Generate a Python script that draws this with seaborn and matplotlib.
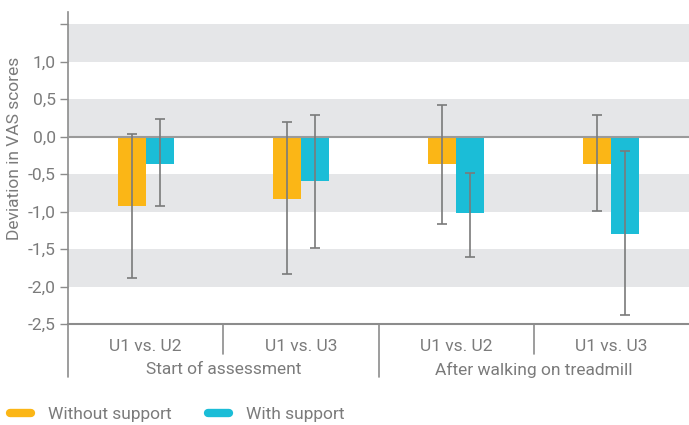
import numpy as np
import pandas as pd
import matplotlib
matplotlib.use("Agg")
import matplotlib.pyplot as plt
from matplotlib.lines import Line2D
import seaborn as sns

comparisons = ["U1 vs. U2", "U1 vs. U3", "U1 vs. U2", "U1 vs. U3"]
phases = ["Start of assessment", "After walking on treadmill"]
series = ["Without support", "With support"]
without_mean = [-0.93, -0.83, -0.36, -0.36]
without_low = [-1.88, -1.83, -1.16, -0.99]
without_high = [0.03, 0.19, 0.42, 0.29]
with_mean = [-0.36, -0.59, -1.02, -1.30]
with_low = [-0.93, -1.49, -1.60, -2.38]
with_high = [0.23, 0.29, -0.48, -0.19]
yticks = [-2.5, -2.0, -1.5, -1.0, -0.5, 0.0, 0.5, 1.0, 1.5]
ytick_labels = ["-2,5", "-2,0", "-1,5", "-1,0", "-0,5", "0,0", "0,5", "1,0", ""]

colors = {"Without support": "#FBB616", "With support": "#1BBDD7"}
text_color = "#7b7b7b"
line_color = "#8c8c8c"
fs = 12.5

sns.set_style("white")
plt.rcParams["font.family"] = ["Roboto", "DejaVu Sans"]

cat_ids = [f"c{i}" for i in range(len(comparisons))]
df = pd.DataFrame({
    "cat": cat_ids * 2,
    "series": [series[0]] * 4 + [series[1]] * 4,
    "value": without_mean + with_mean,
    "low": without_low + with_low,
    "high": without_high + with_high,
})

fig = plt.figure(figsize=(6.89, 4.25), dpi=100)
ax = fig.add_axes([68 / 689, 101 / 425, 621 / 689, 312 / 425])

for lo, hi in [(1.0, 1.5), (0.0, 0.5), (-1.0, -0.5), (-2.0, -1.5)]:
    ax.axhspan(lo, hi, color="#E5E6E8", zorder=0, lw=0)

sns.barplot(data=df, x="cat", y="value", hue="series", order=cat_ids,
            hue_order=series, palette=colors, width=0.36, dodge=True,
            saturation=1, errorbar=None, ax=ax, legend=False, zorder=2, linewidth=0)

for container, s in zip(ax.containers, series):
    sub = df[df["series"] == s].reset_index(drop=True)
    for patch, (_, row) in zip(container.patches, sub.iterrows()):
        xc = patch.get_x() + patch.get_width() / 2
        ax.errorbar([xc], [row["value"]],
                    yerr=[[row["value"] - row["low"]], [row["high"] - row["value"]]],
                    fmt="none", ecolor="#7a7a7a", elinewidth=1.2, capsize=3.5,
                    capthick=1.2, zorder=4)

ax.axhline(0, color="#9a9a9a", lw=1.5, zorder=3)

ax.set_xlim(-0.5, 3.5)
ax.set_ylim(-2.5, 1.66)
ax.set_yticks(yticks)
ax.set_yticklabels(ytick_labels)
ax.tick_params(axis="y", direction="out", length=6, width=1, color=line_color,
               labelsize=fs, labelcolor=text_color, pad=3, left=True)
ax.set_xticks(range(len(comparisons)))
ax.set_xticklabels(comparisons)
ax.tick_params(axis="x", length=0, labelsize=fs, labelcolor=text_color, pad=11)
ax.set_xlabel("")
ax.set_ylabel("Deviation in VAS scores", color=text_color, fontsize=fs)
ax.yaxis.set_label_coords(-46 / 621, (324 - 148) / 312)

for sp in ["top", "right"]:
    ax.spines[sp].set_visible(False)
ax.spines["left"].set_color(line_color)
ax.spines["bottom"].set_color(line_color)
ax.spines["left"].set_linewidth(1.2)
ax.spines["bottom"].set_linewidth(1.5)

trans = ax.get_xaxis_transform()
ax.plot([-0.5, -0.5], [0, -53 / 312], transform=trans, color=line_color, lw=1.2, clip_on=False)
for xs, depth in [(0.5, 30), (1.5, 53), (2.5, 30)]:
    ax.plot([xs, xs], [0, -depth / 312], transform=trans, color=line_color, lw=1.2, clip_on=False)

for i, ph in enumerate(phases):
    ax.text(0.5 + 2 * i, -46 / 312, ph, transform=trans, ha="center", va="center",
            fontsize=fs, color=text_color)

handles = [Line2D([0], [0], color=colors[s], lw=6, solid_capstyle="round") for s in series]
fig.legend(handles, series, loc="center left", bbox_to_anchor=(10 / 689, 11 / 425),
           ncol=2, frameon=False, fontsize=fs, labelcolor=text_color,
           handlelength=1.2, handletextpad=1.0, columnspacing=2.1,
           borderpad=0, borderaxespad=0)

fig.savefig("out.png", dpi=100)
